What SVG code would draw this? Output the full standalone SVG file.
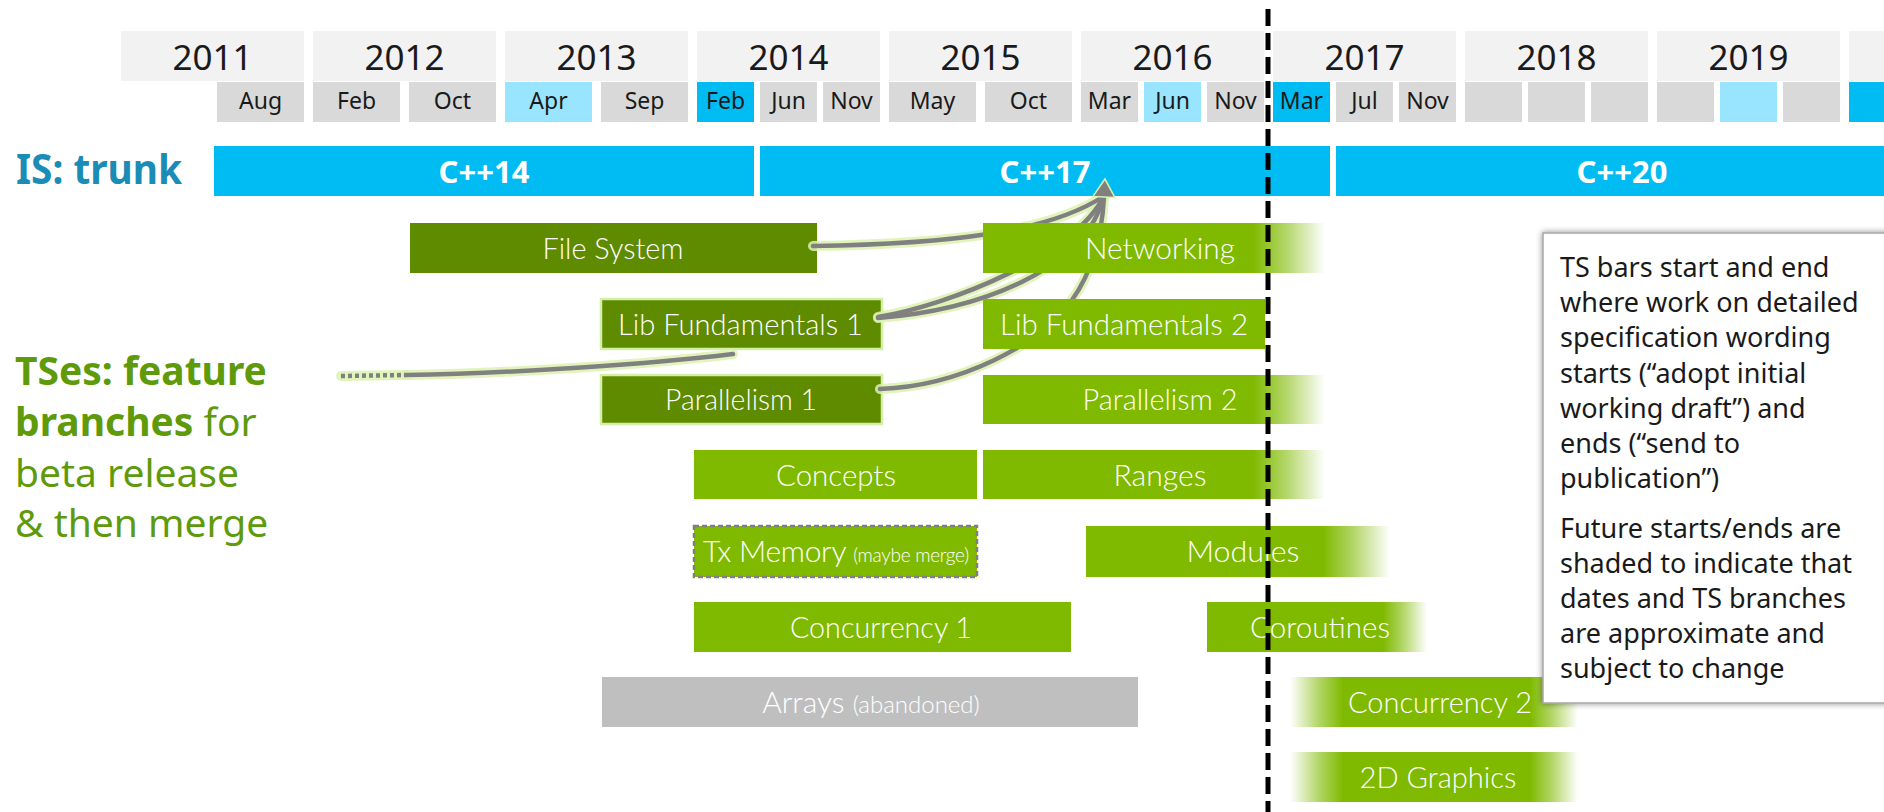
<svg xmlns="http://www.w3.org/2000/svg" xmlns:xlink="http://www.w3.org/1999/xlink" width="1884" height="812" viewBox="0 0 1884 812">
<style>
.yr{fill:#f2f2f2}.mo{fill:#d9d9d9}.mlb{fill:#99e5ff}.mb{fill:#00bcf2}
.yt{font-family:"Noto Sans","Open Sans",sans-serif;font-size:35px;fill:#1a1a1a;text-anchor:middle}
.mt{font-family:"Noto Sans","Open Sans",sans-serif;font-size:23px;fill:#1a1a1a;text-anchor:middle}
.trunk{fill:#00bcf2}
.tt{font-family:"Noto Sans","Open Sans",sans-serif;font-size:31px;font-weight:bold;fill:#fff;text-anchor:middle}
.dk{fill:#5f8b00}.lt{fill:#7fba00}.gr{fill:#bfbfbf}
.hl{stroke:#d6efa6;stroke-width:2.5}
.bl{font-family:Lato,"Noto Sans",sans-serif;font-size:30px;font-weight:300;fill:#fff;text-anchor:middle}
.glow{fill:none;stroke:#dcf2b0;stroke-width:10;stroke-linecap:round;opacity:.85}
.ln{fill:none;stroke:#808080;stroke-width:4.5;stroke-linecap:round}
.nt{font-family:"Noto Sans","Open Sans",sans-serif;font-size:27px;fill:#1a1a1a}
.lab{font-family:"Noto Sans","Open Sans",sans-serif;font-size:39px;fill:#5e9a0a}
</style>
<defs>
<linearGradient id="fadeR" x1="0" y1="0" x2="1" y2="0">
<stop offset="0" stop-color="#7fba00" stop-opacity="1"/>
<stop offset="0.45" stop-color="#7fba00" stop-opacity="0.6"/>
<stop offset="1" stop-color="#7fba00" stop-opacity="0"/>
</linearGradient>
<linearGradient id="fadeL" x1="1" y1="0" x2="0" y2="0">
<stop offset="0" stop-color="#7fba00" stop-opacity="1"/>
<stop offset="0.45" stop-color="#7fba00" stop-opacity="0.6"/>
<stop offset="1" stop-color="#7fba00" stop-opacity="0"/>
</linearGradient>
<filter id="sh" x="-5%" y="-5%" width="110%" height="110%">
<feDropShadow dx="0" dy="0" stdDeviation="3" flood-color="#000" flood-opacity="0.45"/>
</filter>
<marker id="arr" markerUnits="userSpaceOnUse" markerWidth="22" markerHeight="26" refX="1" refY="13" orient="auto">
<path d="M1,2 L19,13 L1,24 z" fill="#808080" stroke="#dcf2b0" stroke-width="1.5"/>
</marker>
<path id="cFS" d="M813 246 C950 244 1050 232 1104 196"/>
<path id="cL1" d="M878 317 C950 305 1075 255 1104 196"/>
<path id="cL2" d="M878 318 C980 310 1085 270 1104 196"/>
<path id="cTS" d="M406 375 C520 373 650 364 733 354"/>
<path id="cTSd" d="M341 376 L406 375"/>
<path id="cP1" d="M880 389 C960 386 1040 345 1072 300 C1092 272 1102 235 1104 197"/>
</defs>

<g id="timeline">
<rect class="yr" x="121" y="31" width="183" height="50"/><text class="yt" x="212.5" y="70">2011</text>
<rect class="yr" x="313" y="31" width="183" height="50"/><text class="yt" x="404.5" y="70">2012</text>
<rect class="yr" x="505" y="31" width="183" height="50"/><text class="yt" x="596.5" y="70">2013</text>
<rect class="yr" x="697" y="31" width="183" height="50"/><text class="yt" x="788.5" y="70">2014</text>
<rect class="yr" x="889" y="31" width="183" height="50"/><text class="yt" x="980.5" y="70">2015</text>
<rect class="yr" x="1081" y="31" width="183" height="50"/><text class="yt" x="1172.5" y="70">2016</text>
<rect class="yr" x="1273" y="31" width="183" height="50"/><text class="yt" x="1364.5" y="70">2017</text>
<rect class="yr" x="1465" y="31" width="183" height="50"/><text class="yt" x="1556.5" y="70">2018</text>
<rect class="yr" x="1657" y="31" width="183" height="50"/><text class="yt" x="1748.5" y="70">2019</text>
<rect class="yr" x="1849" y="31" width="183" height="50"/>

<rect class="mo" x="217" y="82" width="87" height="40"/><text class="mt" x="260.5" y="109">Aug</text>
<rect class="mo" x="313" y="82" width="87" height="40"/><text class="mt" x="356.5" y="109">Feb</text>
<rect class="mo" x="409" y="82" width="87" height="40"/><text class="mt" x="452.5" y="109">Oct</text>
<rect class="mlb" x="505" y="82" width="87" height="40"/><text class="mt" x="548.5" y="109">Apr</text>
<rect class="mo" x="601" y="82" width="87" height="40"/><text class="mt" x="644.5" y="109">Sep</text>
<rect class="mb" x="697" y="82" width="57" height="40"/><text class="mt" x="725.5" y="109">Feb</text>
<rect class="mo" x="760" y="82" width="57" height="40"/><text class="mt" x="788.5" y="109">Jun</text>
<rect class="mo" x="823" y="82" width="57" height="40"/><text class="mt" x="851.5" y="109">Nov</text>
<rect class="mo" x="889" y="82" width="87" height="40"/><text class="mt" x="932.5" y="109">May</text>
<rect class="mo" x="985" y="82" width="87" height="40"/><text class="mt" x="1028.5" y="109">Oct</text>
<rect class="mo" x="1081" y="82" width="57" height="40"/><text class="mt" x="1109.5" y="109">Mar</text>
<rect class="mlb" x="1144" y="82" width="57" height="40"/><text class="mt" x="1172.5" y="109">Jun</text>
<rect class="mo" x="1207" y="82" width="57" height="40"/><text class="mt" x="1235.5" y="109">Nov</text>
<rect class="mb" x="1273" y="82" width="57" height="40"/><text class="mt" x="1301.5" y="109">Mar</text>
<rect class="mo" x="1336" y="82" width="57" height="40"/><text class="mt" x="1364.5" y="109">Jul</text>
<rect class="mo" x="1399" y="82" width="57" height="40"/><text class="mt" x="1427.5" y="109">Nov</text>
<rect class="mo" x="1465" y="82" width="57" height="40"/>
<rect class="mo" x="1528" y="82" width="57" height="40"/>
<rect class="mo" x="1591" y="82" width="57" height="40"/>
<rect class="mo" x="1657" y="82" width="57" height="40"/>
<rect class="mlb" x="1720" y="82" width="57" height="40"/>
<rect class="mo" x="1783" y="82" width="57" height="40"/>
<rect class="mb" x="1849" y="82" width="57" height="40"/>
</g>

<g id="is-trunk">
<text x="16" y="184" font-family="'Noto Sans','Open Sans',sans-serif" font-size="42" font-weight="bold" fill="#1b8cb5" textLength="166" lengthAdjust="spacingAndGlyphs">IS: trunk</text>
</g>
<g id="cpp14"><rect class="trunk" x="214" y="146" width="540" height="50"/><text class="tt" x="484" y="183">C++14</text></g>
<g id="cpp17"><rect class="trunk" x="760" y="146" width="570" height="50"/><text class="tt" x="1045" y="183">C++17</text></g>
<g id="cpp20"><rect class="trunk" x="1336" y="146" width="560" height="50"/><text class="tt" x="1622" y="183">C++20</text></g>

<g id="tses-label">
<text class="lab" x="15" y="385" font-weight="bold">TSes: feature</text>
<text class="lab" x="15" y="436"><tspan font-weight="bold">branches</tspan> for</text>
<text class="lab" x="15" y="487">beta release</text>
<text class="lab" x="15" y="537">&amp; then merge</text>
</g>

<g id="file-system"><rect class="dk" x="410" y="223" width="407" height="50"/><text class="bl" x="613" y="259" textLength="141" lengthAdjust="spacingAndGlyphs">File System</text></g>
<g id="lib-fund-1"><rect class="dk hl" x="601" y="299" width="281" height="50"/><text class="bl" x="740.5" y="335" textLength="245" lengthAdjust="spacingAndGlyphs">Lib Fundamentals 1</text></g>
<g id="parallelism-1"><rect class="dk hl" x="601" y="375" width="281" height="49"/><text class="bl" x="741" y="410" textLength="152" lengthAdjust="spacingAndGlyphs">Parallelism 1</text></g>

<g id="connectors">
<use xlink:href="#cFS" class="glow"/>
<use xlink:href="#cL1" class="glow"/>
<use xlink:href="#cL2" class="glow"/>
<use xlink:href="#cTS" class="glow"/>
<use xlink:href="#cTSd" class="glow"/>
<use xlink:href="#cP1" class="glow"/>
<use xlink:href="#cFS" class="ln"/>
<use xlink:href="#cL1" class="ln"/>
<use xlink:href="#cL2" class="ln"/>
<use xlink:href="#cTS" class="ln"/>
<path d="M341 376 L406 375" fill="none" stroke="#808080" stroke-width="4.5" stroke-dasharray="4 3"/>
<path d="M880 389 C960 386 1040 345 1072 300 C1092 272 1102 235 1104 197" class="ln" marker-end="url(#arr)"/>
</g>

<g id="networking"><rect class="lt" x="983" y="223" width="271" height="50"/><rect x="1253" y="223" width="72" height="50" fill="url(#fadeR)"/><text class="bl" x="1160" y="259" textLength="150" lengthAdjust="spacingAndGlyphs">Networking</text></g>
<g id="lib-fund-2"><rect class="lt" x="983" y="299" width="282" height="50"/><text class="bl" x="1124" y="335" textLength="248" lengthAdjust="spacingAndGlyphs">Lib Fundamentals 2</text></g>
<g id="parallelism-2"><rect class="lt" x="983" y="375" width="271" height="49"/><rect x="1253" y="375" width="72" height="49" fill="url(#fadeR)"/><text class="bl" x="1160" y="410" textLength="155" lengthAdjust="spacingAndGlyphs">Parallelism 2</text></g>
<g id="concepts"><rect class="lt" x="694" y="450" width="283" height="49"/><text class="bl" x="836" y="486" textLength="120" lengthAdjust="spacingAndGlyphs">Concepts</text></g>
<g id="ranges"><rect class="lt" x="983" y="450" width="271" height="49"/><rect x="1253" y="450" width="72" height="49" fill="url(#fadeR)"/><text class="bl" x="1160" y="486" textLength="93" lengthAdjust="spacingAndGlyphs">Ranges</text></g>
<g id="tx-memory"><rect class="lt" x="694" y="526" width="283" height="51" stroke="#7f7f7f" stroke-width="2.5" stroke-dasharray="5 3"/><text class="bl" x="836" y="562" font-size="23" letter-spacing="-0.3">Tx Memory <tspan font-size="19">(maybe merge)</tspan></text></g>
<g id="modules"><rect class="lt" x="1086" y="526" width="238" height="51"/><rect x="1323" y="526" width="67" height="51" fill="url(#fadeR)"/><text class="bl" x="1243" y="562" textLength="113" lengthAdjust="spacingAndGlyphs">Modules</text></g>
<g id="concurrency-1"><rect class="lt" x="694" y="602" width="377" height="50"/><text class="bl" x="881" y="638" textLength="182" lengthAdjust="spacingAndGlyphs">Concurrency 1</text></g>
<g id="coroutines"><rect class="lt" x="1207" y="602" width="177" height="50"/><rect x="1383" y="602" width="44" height="50" fill="url(#fadeR)"/><text class="bl" x="1320" y="638" textLength="140" lengthAdjust="spacingAndGlyphs">Coroutines</text></g>
<g id="arrays"><rect class="gr" x="602" y="677" width="536" height="50"/><text class="bl" x="871" y="713" fill="#f5f5f5">Arrays <tspan font-size="24">(abandoned)</tspan></text></g>
<g id="concurrency-2"><rect x="1290" y="677" width="53" height="50" fill="url(#fadeL)"/><rect class="lt" x="1342" y="677" width="189" height="50"/><rect x="1530" y="677" width="48" height="50" fill="url(#fadeR)"/><text class="bl" x="1440" y="713" textLength="184" lengthAdjust="spacingAndGlyphs">Concurrency 2</text></g>
<g id="graphics-2d"><rect x="1290" y="752" width="53" height="50" fill="url(#fadeL)"/><rect class="lt" x="1342" y="752" width="189" height="50"/><rect x="1530" y="752" width="48" height="50" fill="url(#fadeR)"/><text class="bl" x="1438" y="788" textLength="157" lengthAdjust="spacingAndGlyphs">2D Graphics</text></g>

<g id="today-line"><line x1="1268" y1="9" x2="1268" y2="812" stroke="#000" stroke-width="5" stroke-dasharray="17 7"/></g>

<g id="note">
<rect x="1543" y="233" width="360" height="470" fill="#fff" stroke="#a6a6a6" stroke-width="1.5" filter="url(#sh)"/>
<text class="nt" x="1560" y="277">TS bars start and end</text>
<text class="nt" x="1560" y="312">where work on detailed</text>
<text class="nt" x="1560" y="347">specification wording</text>
<text class="nt" x="1560" y="383">starts (“adopt initial</text>
<text class="nt" x="1560" y="418">working draft”) and</text>
<text class="nt" x="1560" y="453">ends (“send to</text>
<text class="nt" x="1560" y="488">publication”)</text>
<text class="nt" x="1560" y="538">Future starts/ends are</text>
<text class="nt" x="1560" y="573">shaded to indicate that</text>
<text class="nt" x="1560" y="608">dates and TS branches</text>
<text class="nt" x="1560" y="643">are approximate and</text>
<text class="nt" x="1560" y="678">subject to change</text>
</g>
</svg>
